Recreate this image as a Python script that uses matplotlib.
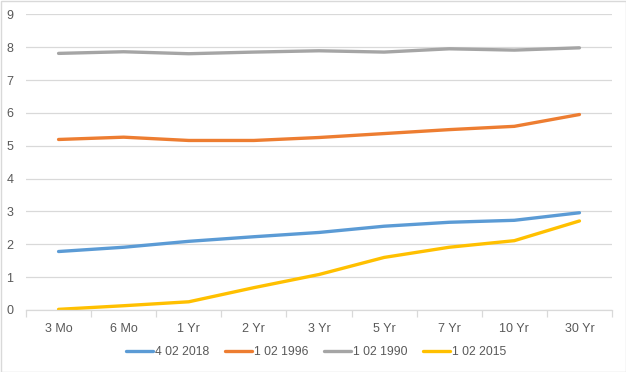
import matplotlib
matplotlib.use("Agg")
import matplotlib.pyplot as plt
from matplotlib.patches import Rectangle

categories = ["3 Mo", "6 Mo", "1 Yr", "2 Yr", "3 Yr", "5 Yr", "7 Yr", "10 Yr", "30 Yr"]
series_names = ["4 02 2018", "1 02 1996", "1 02 1990", "1 02 2015"]
s2018 = [1.78, 1.91, 2.09, 2.23, 2.36, 2.55, 2.67, 2.73, 2.96]
s1996 = [5.19, 5.26, 5.16, 5.16, 5.25, 5.37, 5.49, 5.59, 5.95]
s1990 = [7.81, 7.86, 7.80, 7.85, 7.89, 7.85, 7.95, 7.91, 7.98]
s2015 = [0.02, 0.13, 0.25, 0.68, 1.08, 1.60, 1.91, 2.11, 2.71]
yticks = list(range(0, 10))
colors = ["#5B9BD5", "#ED7D31", "#A5A5A5", "#FFC000"]

plt.rcParams['font.family'] = ['Liberation Sans', 'DejaVu Sans']
text_color = "#595959"
grid_color = "#D9D9D9"

fig = plt.figure(figsize=(6.26, 3.72), dpi=100)
ax = fig.add_axes([26/626, 1-310/372, (612-26)/626, (310-14.3)/372])

x = list(range(len(categories)))
for vals, name, c in zip([s2018, s1996, s1990, s2015], series_names, colors):
    ax.plot(x, vals, color=c, lw=2.4, label=name, solid_capstyle='round', solid_joinstyle='round')

ax.set_xlim(-0.5, len(categories) - 0.5)
ax.set_ylim(0, 9)
ax.set_yticks(yticks)
ax.set_yticklabels([str(t) for t in yticks])
ax.yaxis.grid(True, color=grid_color, lw=0.9)
ax.set_axisbelow(True)
ax.tick_params(axis='y', length=0, pad=9, labelsize=9, labelcolor=text_color)

ax.set_xticks(x)
ax.set_xticklabels(categories)
ax.tick_params(axis='x', which='major', length=0, pad=9, labelsize=9, labelcolor=text_color)
ax.set_xticks([i - 0.5 for i in range(len(categories) + 1)], minor=True)
ax.tick_params(axis='x', which='minor', length=5, color=grid_color, width=0.9)

for side in ['top', 'right', 'left']:
    ax.spines[side].set_visible(False)
ax.spines['bottom'].set_color(grid_color)
ax.spines['bottom'].set_linewidth(0.9)

leg = fig.legend(loc='center', bbox_to_anchor=(316/626, 1-352/372), ncol=4, frameon=False,
                 fontsize=8.7, handlelength=2.25, handletextpad=0.15, columnspacing=1.3)
for t in leg.get_texts():
    t.set_color(text_color)

fig.patches.append(Rectangle((0.5/626, 0.5/372), 1-1/626, 1-1/372, transform=fig.transFigure,
                             fill=False, edgecolor=grid_color, lw=1))

fig.savefig("out.png", dpi=100, facecolor="white")
